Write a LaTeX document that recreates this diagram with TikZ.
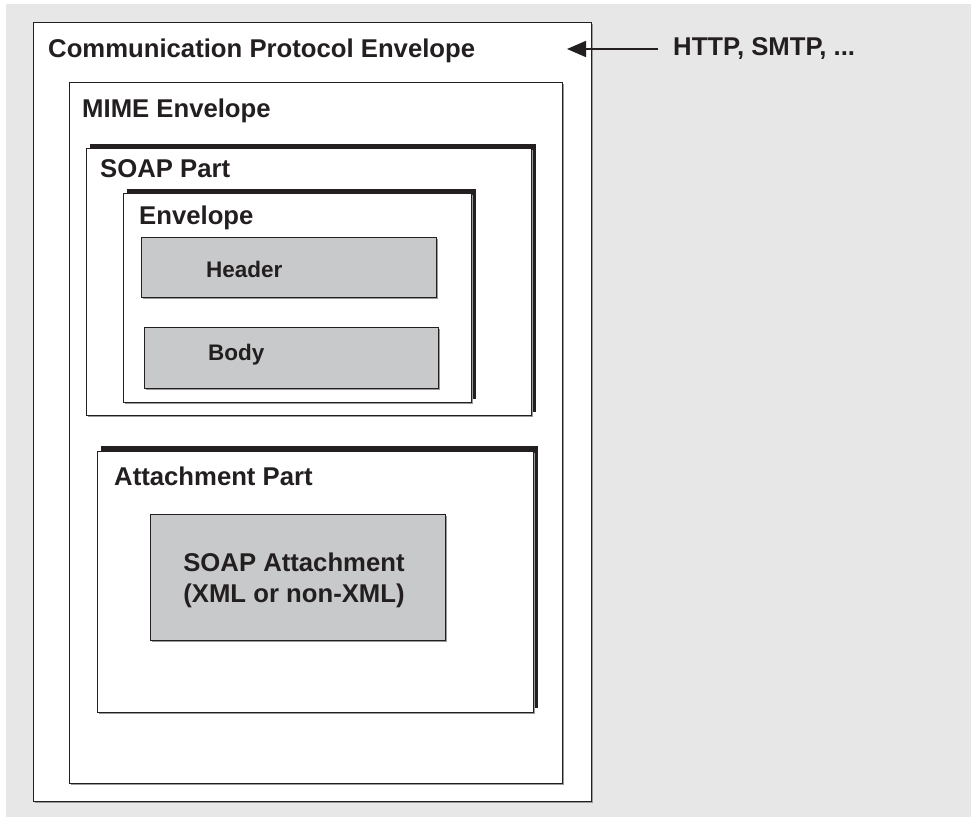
\documentclass[tikz,border=0pt]{standalone}
\usepackage{fontspec}
\setmainfont{Liberation Sans}
\usetikzlibrary{arrows.meta,fit}
\definecolor{bg}{HTML}{E6E7E6}
\definecolor{ink}{HTML}{231F20}
\definecolor{fillg}{HTML}{C8C9CA}
\definecolor{shad}{HTML}{9A9A9A}
\tikzset{
  lbl/.style={font=\fontsize{25.7}{30}\selectfont\bfseries, text=ink, inner sep=0pt, anchor=base west},
  sublbl/.style={font=\fontsize{22.5}{26}\selectfont\bfseries, text=ink, inner sep=0pt, anchor=base west},
  wbox/.style={draw=ink, line width=1pt, fill=white, inner sep=0pt},
  gbox/.style={draw=ink, line width=1pt, fill=fillg, inner sep=0pt},
  softshadow/.style={fill=shad},
  hardshadow/.style={fill=ink},
}
\begin{document}
\begin{tikzpicture}[x=1pt,y=-1pt]
\useasboundingbox (0,0) rectangle (973,817);
\fill[bg] (6,4) rectangle (971,817);
% outer
\fill[softshadow] (34.5,23.5) rectangle (592.5,802.5);
\node[wbox, fit={(33,22) (591,801)}] (comm) {};
% MIME
\fill[softshadow] (70.5,83.5) rectangle (563.5,784.5);
\node[wbox, fit={(69,82) (562,783)}] (mime) {};
% SOAP part
\fill[hardshadow] (89.5,144) rectangle (535.5,411.5);
\fill[softshadow] (87.5,149.5) rectangle (532.5,416.5);
\node[wbox, fit={(86,148) (531,415)}] (soap) {};
% Envelope
\fill[hardshadow] (127,188.5) rectangle (476,398.5);
\fill[softshadow] (124.5,194.5) rectangle (472.5,403.5);
\node[wbox, fit={(123,193) (471,402)}] (env) {};
% Header / Body
\fill[softshadow] (142.5,238.5) rectangle (437.5,298.5);
\node[gbox, fit={(141,237) (436,297)}] (header) {};
\fill[softshadow] (145.5,328.5) rectangle (439.5,389.5);
\node[gbox, fit={(144,327) (438,388)}] (body) {};
% Attachment part
\fill[hardshadow] (101,446) rectangle (538,707.5);
\fill[softshadow] (98.5,452.5) rectangle (534.5,713.5);
\node[wbox, fit={(97,451) (533,712)}] (att) {};
\fill[softshadow] (151.5,515.5) rectangle (446.5,641.5);
\node[gbox, fit={(150,514) (445,640)}] (satt) {};
% labels
\node[lbl] (commlbl) at (48,57) {Communication Protocol Envelope};
\node[lbl] (mimelbl) at (82,117) {MIME Envelope};
\node[lbl] (soaplbl) at (100,177) {SOAP Part};
\node[lbl] (envlbl) at (139,224) {Envelope};
\node[sublbl] (headerlbl) at (206,277) {Header};
\node[sublbl] (bodylbl) at (208,360) {Body};
\node[lbl] (attlbl) at (114,485) {Attachment Part};
\node[font=\fontsize{25.7}{30}\selectfont\bfseries, text=ink, inner sep=0pt, align=center] (sattlbl) at (294,580) {SOAP Attachment\\[1pt](XML or non-XML)};
\node[lbl] (http) at (673,55) {HTTP, SMTP, ...};
% arrow
\coordinate (arrstart) at (658,49);
\coordinate (arrtip) at (567,49);
\draw[ink, line width=1.6pt, -{Triangle[length=19pt,width=16pt]}] (arrstart) -- (arrtip);
\end{tikzpicture}
\end{document}
